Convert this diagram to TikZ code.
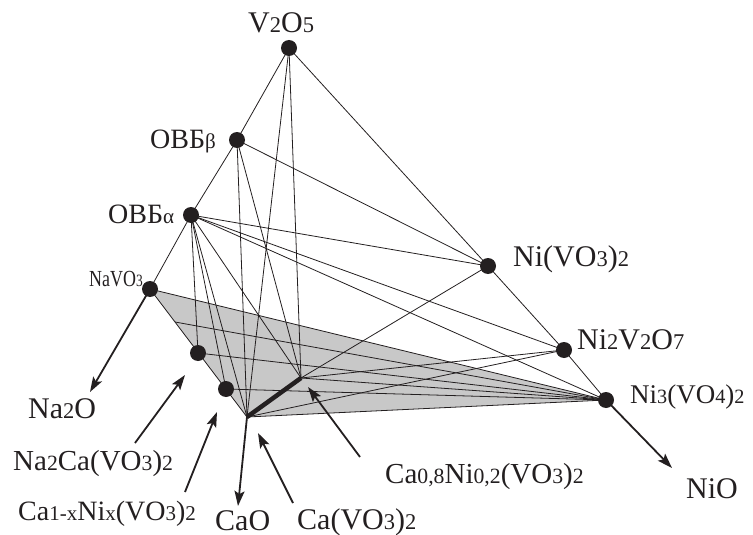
\documentclass[tikz,border=0pt]{standalone}
\usepackage{fontspec}
\setmainfont{Liberation Serif}
\usetikzlibrary{arrows.meta}
\definecolor{ink}{HTML}{231F20}
\definecolor{planegray}{HTML}{C8C8C8}
\newcommand\lo[1]{\scalebox{0.75}{#1}}
\begin{document}
\begin{tikzpicture}[x=1pt,y=-1pt,
  tie/.style={draw=ink, line width=0.8pt},
  dot/.style={circle, fill=ink, draw=none, minimum size=16pt, inner sep=0pt},
  lab/.style={inner sep=0pt, anchor=base west, text=ink, font=\fontsize{30}{36}\selectfont},
  labs/.style={inner sep=0pt, anchor=base west, text=ink, font=\fontsize{28}{32}\selectfont},
  pointer/.style={draw=ink, line width=1.8pt, -{Stealth[length=15pt,width=10pt,inset=3pt]}}]
\useasboundingbox (0,0) rectangle (753,535);
% key points
\coordinate (V) at (289,48);
\coordinate (B) at (237,140);
\coordinate (A) at (191,215);
\coordinate (N) at (150,289);
\coordinate (NV) at (488,266);
\coordinate (NP) at (564,350);
\coordinate (NO) at (606,400);
\coordinate (NC) at (198,353);
\coordinate (CX) at (226,389);
\coordinate (C) at (247,417);
\coordinate (CN) at (301,378);
\coordinate (E) at (175,322);
% arrow ends
\coordinate (tNa2O) at (90,392);
\coordinate (tNiO) at (672,468);
\coordinate (tCaO) at (238,506);
\coordinate (sNC) at (135,443);
\coordinate (tNC) at (185,375);
\coordinate (sCX) at (185,492);
\coordinate (tCX) at (217,412);
\coordinate (sCV) at (293,503);
\coordinate (tCV) at (258,433);
\coordinate (sCN) at (360,457);
\coordinate (tCN) at (308,387);
% shaded plane
\fill[fill=planegray] (N) -- (NO) -- (C) -- cycle;
% edges and ties
\draw[tie] (V) -- (B) -- (A) -- (N);
\draw[tie] (V) -- (NV) -- (NP) -- (NO);
\draw[tie] (N) -- (NO) -- (C) -- (N);
\draw[tie] (V) -- (C);
\draw[tie] (V) -- (CN);
\draw[tie] (B) -- (NV);
\draw[tie] (B) -- (C);
\draw[tie] (B) -- (CN);
\draw[tie] (A) -- (NV);
\draw[tie] (A) -- (NP);
\draw[tie] (A) -- (NO);
\draw[tie] (A) -- (NC);
\draw[tie] (A) -- (CX);
\draw[tie] (A) -- (C);
\draw[tie] (A) -- (CN);
\draw[tie] (CN) -- (NV);
\draw[tie] (CN) -- (NP);
\draw[tie] (C) -- (NP);
\draw[tie] (NO) -- (NC);
\draw[tie] (NO) -- (CX);
\draw[tie] (NO) -- (CN);
\draw[tie] (NO) -- (E);
\draw[draw=ink, line width=4.5pt] (C) -- (CN);
% arrows
\draw[pointer] (N) -- (tNa2O);
\draw[pointer] (NO) -- (tNiO);
\draw[pointer] (C) -- (tCaO);
\draw[pointer] (sNC) -- (tNC);
\draw[pointer] (sCX) -- (tCX);
\draw[pointer] (sCV) -- (tCV);
\draw[pointer] (sCN) -- (tCN);
% dots
\foreach \p in {V,B,A,N,NV,NP,NO,NC,CX} \node[dot] (d\p) at (\p) {};
% labels
\node[lab] (lV) at (248,33) {V\lo{2}O\lo{5}};
\node[labs] (lB) at (150,148) {ОВБ\lo{β}};
\node[labs] (lA) at (108,223) {ОВБ\lo{α}};
\node[lab, font=\fontsize{23}{27}\selectfont] (lN) at (89,286) {\scalebox{0.78}[1]{NaVO\lo{3}}};
\node[lab] (lNV) at (513,266) {Ni(VO\lo{3})\lo{2}};
\node[lab] (lNP) at (577,349) {Ni\lo{2}V\lo{2}O\lo{7}};
\node[lab, font=\fontsize{27}{30}\selectfont] (lNO) at (630,403) {Ni\lo{3}(VO\lo{4})\lo{2}};
\node[lab] (lNiO) at (686,498) {NiO};
\node[lab] (lNa2O) at (28,418) {Na\lo{2}O};
\node[lab, font=\fontsize{29}{33}\selectfont] (lNC) at (13,470) {Na\lo{2}Ca(VO\lo{3})\lo{2}};
\node[lab, font=\fontsize{28}{33}\selectfont] (lCX) at (18,520) {Ca\lo{1-x}Ni\lo{x}(VO\lo{3})\lo{2}};
\node[lab] (lCaO) at (215,530) {CaO};
\node[lab] (lCV) at (297,529) {Ca(VO\lo{3})\lo{2}};
\node[lab, font=\fontsize{29}{33}\selectfont] (lCN) at (385,483) {Ca\lo{0,8}Ni\lo{0,2}(VO\lo{3})\lo{2}};
\end{tikzpicture}
\end{document}
